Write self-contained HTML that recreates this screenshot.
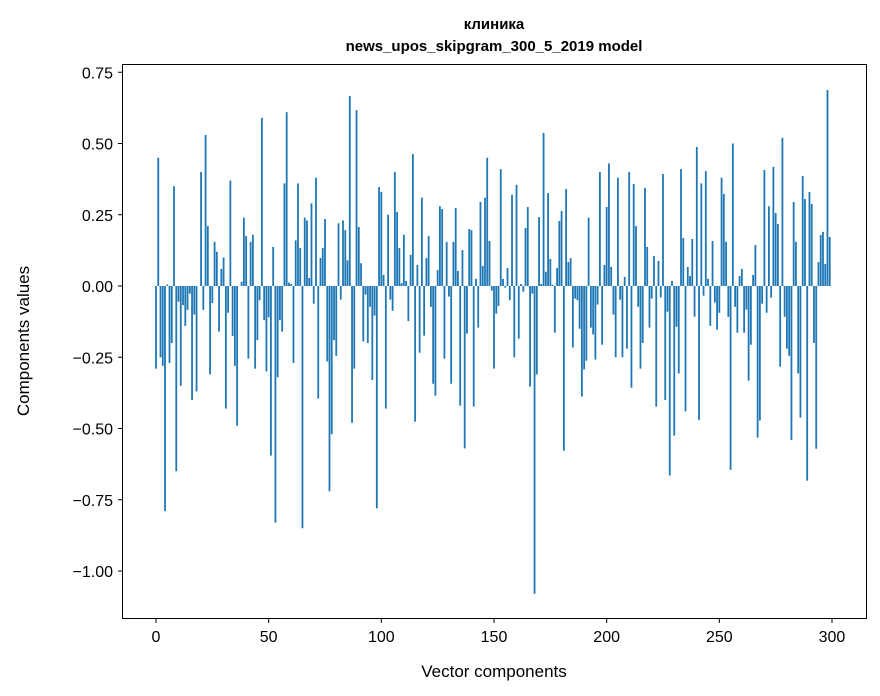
<!DOCTYPE html>
<html><head><meta charset="utf-8"><style>
body{margin:0;background:#fff}
svg{display:block;font-family:"Liberation Sans","DejaVu Sans",sans-serif}
</style></head><body>
<svg id="chart" width="880" height="696" xmlns="http://www.w3.org/2000/svg">
<rect width="880" height="696" fill="#fff"/>
<text x="494" y="29" text-anchor="middle" font-size="15" font-weight="bold">клиника</text>
<text x="494" y="51" text-anchor="middle" font-size="15" font-weight="bold">news_upos_skipgram_300_5_2019 model</text>
<g id="bars"></g>
<g id="yticks"></g>
<g id="xticks"></g>
<rect x="122.5" y="64.5" width="744" height="554" fill="none" stroke="#000" stroke-width="1"/>
<text x="494" y="677" text-anchor="middle" font-size="17">Vector components</text>
<text transform="translate(29,341) rotate(-90)" text-anchor="middle" font-size="17">Components values</text>
</svg>
<script>
const values = [
-0.29,0.45,-0.25,-0.28,-0.79,0.005,-0.27,-0.20,0.35,-0.65,
-0.055,-0.35,-0.067,-0.14,-0.084,-0.027,-0.40,-0.10,-0.37,0,
0.40,-0.084,0.53,0.21,-0.31,-0.06,0.155,0.12,-0.16,0.06,
0.10,-0.43,-0.094,0.37,-0.175,-0.28,-0.49,0,0.015,0.24,
0.175,-0.255,0.155,0.18,-0.29,-0.19,-0.05,0.59,-0.12,-0.30,
-0.11,-0.595,0.137,-0.83,-0.32,-0.12,-0.16,0.36,0.61,0.012,
0.007,-0.27,0.16,0.36,0.133,-0.85,0.24,0.23,0.028,0.29,
-0.062,0.38,-0.395,0.098,0.133,0.235,-0.265,-0.72,-0.52,-0.19,
-0.245,0.22,-0.048,0.23,0.196,0.09,0.667,-0.48,-0.29,0.617,
0.207,0.08,-0.195,-0.03,-0.2,-0.073,-0.33,-0.104,-0.78,0.347,
0.33,0.039,-0.43,0.25,-0.048,-0.087,0.40,0.26,0.133,0.01,
0.18,0.018,-0.123,0.109,0.463,-0.476,0.074,-0.234,0.31,-0.174,
0.098,0.175,-0.073,-0.343,-0.385,0.056,0.28,0.27,-0.255,0.155,
-0.037,-0.343,0.155,0.274,0.053,-0.42,0.126,-0.57,-0.167,0.2,
0.196,-0.423,0.025,-0.146,0.295,0.07,0.31,0.45,0.158,-0.016,
-0.29,-0.097,-0.07,0.41,0.025,-0.006,0.063,-0.05,0.32,-0.25,
0.355,-0.185,0.007,-0.02,0.204,0.277,-0.353,-0.027,-1.08,-0.31,
0.242,0.007,0.537,0.05,0.326,0.095,0.004,-0.164,0.063,0.228,
0.263,-0.578,0.34,0.084,0.098,-0.216,-0.044,-0.05,-0.15,-0.388,
-0.293,-0.262,0.24,-0.146,-0.17,-0.258,-0.065,0.40,-0.206,0.074,
0.277,0.43,0.067,-0.1,-0.25,0.38,-0.048,-0.25,0.032,-0.22,
0.40,-0.357,0.358,0.21,-0.073,-0.29,-0.2,0.344,0.137,-0.146,
-0.044,0.105,-0.423,0.088,-0.04,0.393,-0.40,-0.09,-0.665,0.018,
-0.525,-0.143,-0.307,0.41,0.168,-0.44,0.067,0.035,0.165,-0.108,
0.488,-0.47,0.36,-0.034,0.403,0.025,-0.14,0.158,-0.058,-0.153,
-0.094,0.38,0.323,0.155,-0.108,-0.645,0.50,-0.073,-0.164,0.035,
0.06,-0.164,-0.083,-0.332,-0.206,0.039,0.144,-0.532,-0.472,-0.062,
0.407,-0.094,0.28,-0.041,0.418,0.256,0.218,-0.283,0.52,-0.108,
-0.22,-0.245,-0.54,0.295,0.155,-0.307,-0.462,0.386,0.305,-0.683,
0.33,0.288,-0.2,-0.571,0.084,0.179,0.19,0.077,0.688,0.172
];
const yTickValues = [0.75,0.5,0.25,0,-0.25,-0.5,-0.75,-1.0];
const yTickLabels = ["0.75","0.50","0.25","0.00","\u22120.25","\u22120.50","\u22120.75","\u22121.00"];
const xTickValues = [0,50,100,150,200,250,300];

const NS="http://www.w3.org/2000/svg";
function xScale(i){return 156 + 2.2533*i;}
function yScale(v){return 286 - 285*v;}
const bw = 0.8*2.2533;
const bars=document.getElementById('bars');
values.forEach((v,i)=>{
  const r=document.createElementNS(NS,'rect');
  const y0=yScale(0), y1=yScale(v);
  r.setAttribute('x',(xScale(i)-bw/2).toFixed(2));
  r.setAttribute('y',Math.min(y0,y1).toFixed(2));
  r.setAttribute('width',bw.toFixed(2));
  r.setAttribute('height',Math.abs(y1-y0).toFixed(2));
  r.setAttribute('fill','#1f77b4');
  
  
  bars.appendChild(r);
});
const yg=document.getElementById('yticks');
yTickValues.forEach((v,k)=>{
  const y=yScale(v);
  const l=document.createElementNS(NS,'line');
  l.setAttribute('x1',118);l.setAttribute('x2',122.5);
  l.setAttribute('y1',y);l.setAttribute('y2',y);l.setAttribute('stroke','#000');
  
  
  yg.appendChild(l);
  const t=document.createElementNS(NS,'text');
  t.setAttribute('x',113);t.setAttribute('y',y+6);
  t.setAttribute('text-anchor','end');t.setAttribute('font-size','16');
  t.textContent=yTickLabels[k];
  
  
  yg.appendChild(t);
});
const xg=document.getElementById('xticks');
xTickValues.forEach(v=>{
  const x=xScale(v);
  const l=document.createElementNS(NS,'line');
  l.setAttribute('x1',x);l.setAttribute('x2',x);
  l.setAttribute('y1',618.5);l.setAttribute('y2',623);l.setAttribute('stroke','#000');
  
  
  xg.appendChild(l);
  const t=document.createElementNS(NS,'text');
  t.setAttribute('x',x);t.setAttribute('y',642);
  t.setAttribute('text-anchor','middle');t.setAttribute('font-size','16');
  t.textContent=String(v);
  
  
  xg.appendChild(t);
});
</script>
</body></html>
